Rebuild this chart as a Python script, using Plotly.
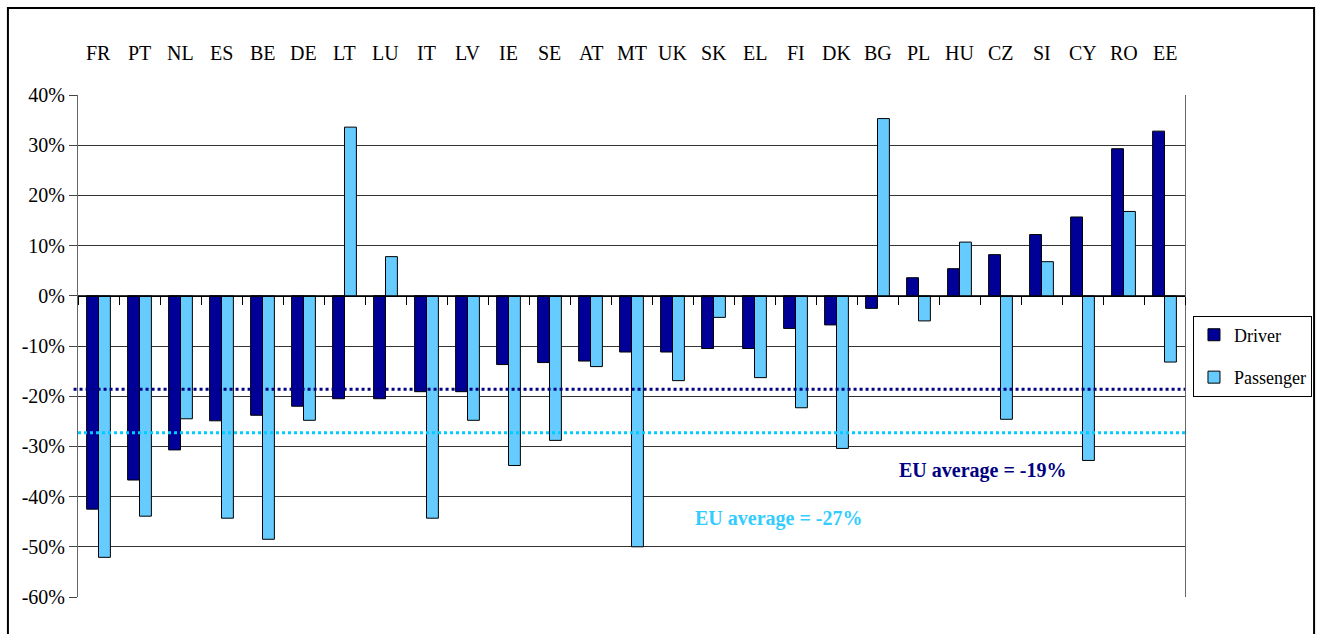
"""
Driver / passenger fatality change by country, with EU average lines
"""

import plotly.graph_objects as go

# Data (percent change)
countries = ['FR', 'PT', 'NL', 'ES', 'BE', 'DE', 'LT', 'LU', 'IT', 'LV', 'IE', 'SE', 'AT', 'MT',
             'UK', 'SK', 'EL', 'FI', 'DK', 'BG', 'PL', 'HU', 'CZ', 'SI', 'CY', 'RO', 'EE']
driver = [-42.5, -36.7, -30.7, -24.9, -23.8, -22.0, -20.5, -20.5, -19.1, -19.1, -13.7, -13.3,
          -13.0, -11.2, -11.2, -10.5, -10.5, -6.5, -5.8, -2.5, 3.6, 5.4, 8.2, 12.2, 15.7, 29.3, 32.8]
passenger = [-52.1, -43.9, -24.5, -44.3, -48.5, -24.8, 33.6, 7.8, -44.3, -24.8, -33.8, -28.8,
             -14.1, -50.0, -16.9, -4.3, -16.3, -22.3, -30.4, 35.3, -5.0, 10.7, -24.6, 6.8,
             -32.8, 16.8, -13.2]
eu_avg_driver = -18.6
eu_avg_passenger = -27.3
eu_label_driver = 'EU average = -19%'
eu_label_passenger = 'EU average = -27%'
tick_vals = [40, 30, 20, 10, 0, -10, -20, -30, -40, -50, -60]
tick_text = ['40%', '30%', '20%', '10%', '0%', '-10%', '-20%', '-30%', '-40%', '-50%', '-60%']

DRIVER_COLOR = '#000099'
PASSENGER_COLOR = '#66ccff'
FONT = 'Liberation Serif, Times New Roman, DejaVu Serif, serif'

fig = go.Figure()

fig.add_trace(go.Bar(
    x=countries, y=driver, name='Driver', legendgroup='driver',
    marker=dict(color=DRIVER_COLOR, line=dict(color='black', width=1)),
))
fig.add_trace(go.Bar(
    x=countries, y=passenger, name='Passenger', legendgroup='passenger',
    marker=dict(color=PASSENGER_COLOR, line=dict(color='black', width=1)),
))

# EU average lines
fig.add_shape(type='line', xref='paper', yref='y', x0=-0.004, x1=1.0,
              y0=eu_avg_driver, y1=eu_avg_driver,
              line=dict(color='#000080', width=3, dash='dot'))
fig.add_shape(type='line', xref='paper', yref='y', x0=0.0, x1=1.002,
              y0=eu_avg_passenger, y1=eu_avg_passenger,
              line=dict(color='#00ccff', width=3, dash='dot'))

fig.add_annotation(text=f'<b>{eu_label_driver}</b>', xref='paper', yref='y', x=0.8175, y=-34.8,
                   showarrow=False, font=dict(family=FONT, size=20, color='#000080'),
                   xanchor='center', yanchor='middle')
fig.add_annotation(text=f'<b>{eu_label_passenger}</b>', xref='paper', yref='y', x=0.6332, y=-44.4,
                   showarrow=False, font=dict(family=FONT, size=20, color='#33ccff'),
                   xanchor='center', yanchor='middle')

# Country labels above the plot
for c in countries:
    fig.add_annotation(text=c, x=c, xref='x', yref='paper', y=1.084,
                       showarrow=False, font=dict(family=FONT, size=20, color='black'),
                       xanchor='center', yanchor='middle')

# Outer frame
fig.add_shape(type='rect', xref='paper', yref='paper',
              x0=-0.0633, x1=1.1166, y0=-0.1, y1=1.1733,
              line=dict(color='black', width=2), layer='above')

fig.update_layout(
    width=1317, height=634,
    margin=dict(l=78, r=132, t=95, b=37, autoexpand=False),
    paper_bgcolor='white', plot_bgcolor='white',
    font=dict(family=FONT, size=20, color='black'),
    barmode='group', bargap=0.42, bargroupgap=0,
    showlegend=True,
    legend=dict(x=1.1147, y=0.48, xanchor='right', yanchor='middle',
                bgcolor='white', bordercolor='black', borderwidth=1,
                font=dict(family=FONT, size=18), traceorder='grouped', tracegroupgap=16),
    xaxis=dict(type='category', anchor='free', position=0.6,
               showline=True, linecolor='black', linewidth=1,
               ticks='outside', ticklen=8, tickcolor='black', tickson='boundaries',
               showticklabels=False, showgrid=False, zeroline=False),
    yaxis=dict(range=[-60, 40], tickvals=tick_vals, ticktext=tick_text,
               showgrid=True, gridcolor='#333333', gridwidth=1, zeroline=False,
               showline=True, linecolor='#666666', linewidth=1, mirror=True,
               ticks='outside', ticklen=8, tickcolor='#444444',
               tickfont=dict(family=FONT, size=20)),
)

fig.write_html("out.html", config={'displayModeBar': False},
               post_script="document.body.style.margin='0';")
